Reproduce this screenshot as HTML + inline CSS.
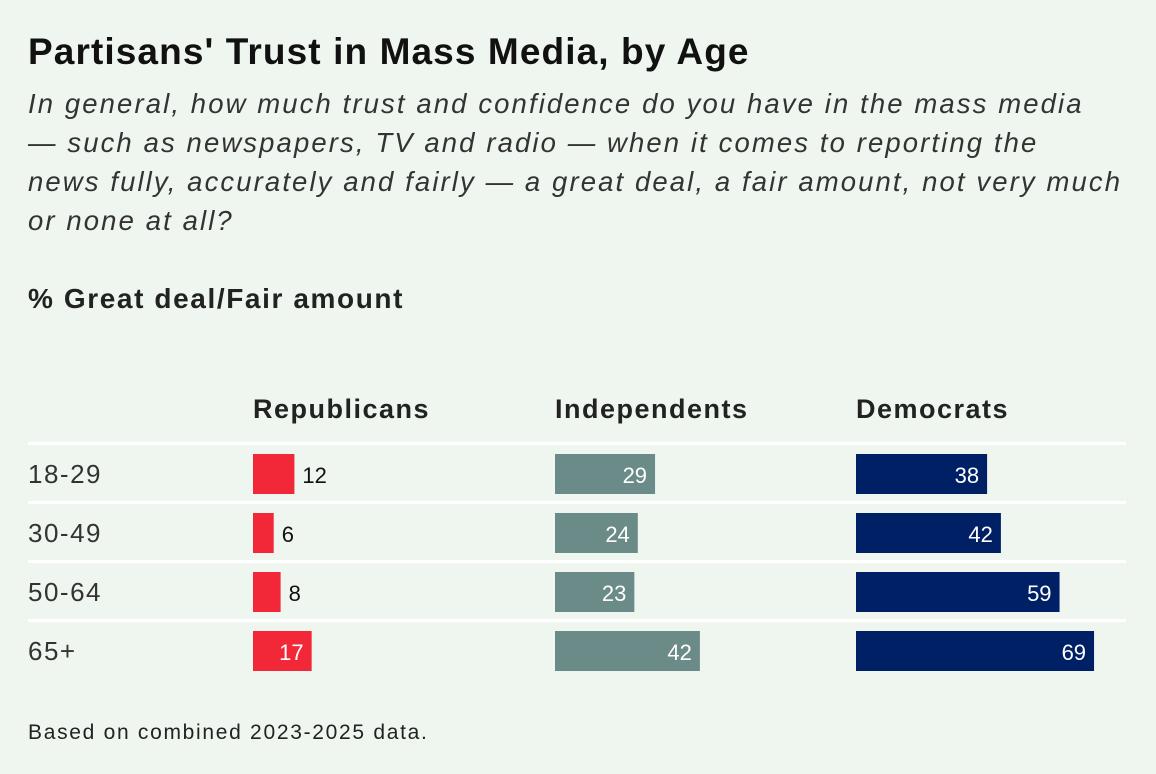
<!DOCTYPE html>
<html><head><meta charset="utf-8"><style>
body{margin:0;width:1156px;height:774px;background:#eef6ef;font-family:"Liberation Sans",sans-serif;color:#222;overflow:hidden;position:relative}
.t{position:absolute;white-space:nowrap}
</style></head><body>
<div class="t" style="left:28px;top:31px;font-size:37px;letter-spacing:1.1px;font-weight:bold;color:#111">Partisans' Trust in Mass Media, by Age</div>
<div class="t" style="left:28px;top:84px;font-size:27.5px;letter-spacing:2.1px;font-style:italic;line-height:39px;color:#333">In general, how much trust and confidence do you have in the mass media<br>— such as newspapers, TV and radio — when it comes to reporting the<br>news fully, accurately and fairly — a great deal, a fair amount, not very much<br>or none at all?</div>
<div class="t" style="left:28px;top:283px;font-size:28px;letter-spacing:1.6px;font-weight:bold;color:#222">% Great deal/Fair amount</div>
<svg id="c" width="1156" height="774" style="position:absolute;left:0;top:0"></svg>
<div class="t" style="left:28px;top:721px;font-size:21px;letter-spacing:1.7px;color:#222">Based on combined 2023-2025 data.</div>
<script>
const ages=["18-29","30-49","50-64","65+"];
const parties=["Republicans","Independents","Democrats"];
const rep=[12,6,8,17];
const ind=[29,24,23,42];
const dem=[38,42,59,69];
const NS="http://www.w3.org/2000/svg";
const svg=document.getElementById('c');
const colX=[253,555,856], colors=["#f22737","#6a8b87","#002066"], series=[rep,ind,dem];
const scale=v=>v*3.45;
const rowY=i=>454+i*59;
function el(tag,attrs){const e=document.createElementNS(NS,tag);for(const k in attrs)e.setAttribute(k,attrs[k]);svg.appendChild(e);return e;}
for(let i=0;i<ages.length;i++){
  const l=el('rect',{x:28,y:rowY(i)-12,width:1098,height:3,fill:'#fff'});
  
  
  const t=el('text',{x:28,y:rowY(i)+29,'font-size':26,'letter-spacing':1.5,fill:'#333','font-family':'Liberation Sans'});
  t.textContent=ages[i];
  
  
}
parties.forEach((p,j)=>{
  const h=el('text',{x:colX[j],y:418,'font-size':27,'letter-spacing':1.5,'font-weight':'bold',fill:'#222','font-family':'Liberation Sans'});
  h.textContent=p;
  
  
  series[j].forEach((v,i)=>{
    const w=scale(v);
    const r=el('rect',{x:colX[j],y:rowY(i),width:w,height:40,fill:colors[j]});
    
    
    const inside=v>=15;
    const tx=el('text',{x:inside?colX[j]+w-8:colX[j]+w+8,y:rowY(i)+29,'font-size':22,fill:inside?'#fff':'#111','text-anchor':inside?'end':'start','font-family':'Liberation Sans'});
    tx.textContent=v;
    
    
  });
});
</script>
</body></html>
